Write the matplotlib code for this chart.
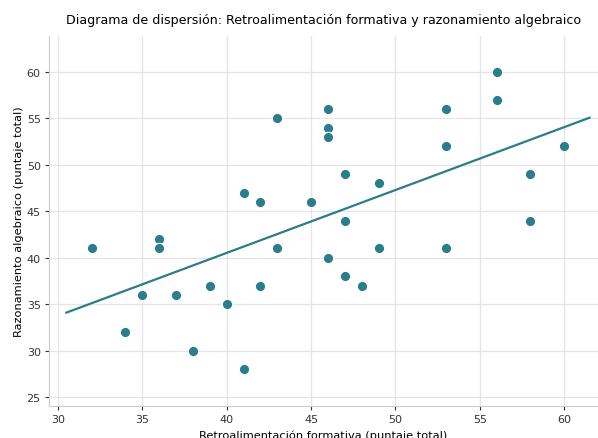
import numpy as np
import matplotlib
matplotlib.use("Agg")
import matplotlib.pyplot as plt

retro = [32, 34, 35, 36, 36, 37, 38, 39, 40, 41, 41, 42, 42, 43, 43, 45,
         46, 46, 46, 46, 47, 47, 47, 48, 49, 49, 53, 53, 53, 56, 56, 58, 58, 60]
razon = [41, 32, 36, 42, 41, 36, 30, 37, 35, 47, 28, 46, 37, 55, 41, 46,
         56, 54, 53, 40, 49, 44, 38, 37, 48, 41, 56, 52, 41, 60, 57, 49, 44, 52]

color = "#2b7d8b"

fig = plt.figure(figsize=(5.98, 4.39), dpi=100)
ax = fig.add_axes([0.082, 0.073, 0.918, 0.843])

ax.scatter(retro, razon, s=55, color=color, edgecolor="white", linewidth=0.8, zorder=3)

x = np.array(retro, dtype=float)
y = np.array(razon, dtype=float)
m, b = np.polyfit(x, y, 1)
xs = np.array([x.min() - 1.5, x.max() + 1.5])
ax.plot(xs, m * xs + b, color=color, linewidth=1.6, zorder=2)

ax.set_xlim(29.47, 62.0)
ax.set_ylim(24.03, 63.9)
ax.set_xticks([30, 35, 40, 45, 50, 55, 60])
ax.set_yticks([25, 30, 35, 40, 45, 50, 55, 60])
ax.grid(True, color="#e5e5e5", linewidth=0.9)
ax.set_axisbelow(True)
for s in ["top", "right"]:
    ax.spines[s].set_visible(False)
for s in ["left", "bottom"]:
    ax.spines[s].set_color("#cccccc")
ax.tick_params(colors="#333333", labelsize=8, length=3, width=0.8, pad=3, color="#333333")
ax.set_xlabel("Retroalimentación formativa (puntaje total)", fontsize=8.2, labelpad=4)
ax.set_ylabel("Razonamiento algebraico (puntaje total)", fontsize=8.2, labelpad=2)
ax.set_title("Diagrama de dispersión: Retroalimentación formativa y razonamiento algebraico",
             fontsize=9.1, pad=9)

fig.savefig("out.png", dpi=100)
